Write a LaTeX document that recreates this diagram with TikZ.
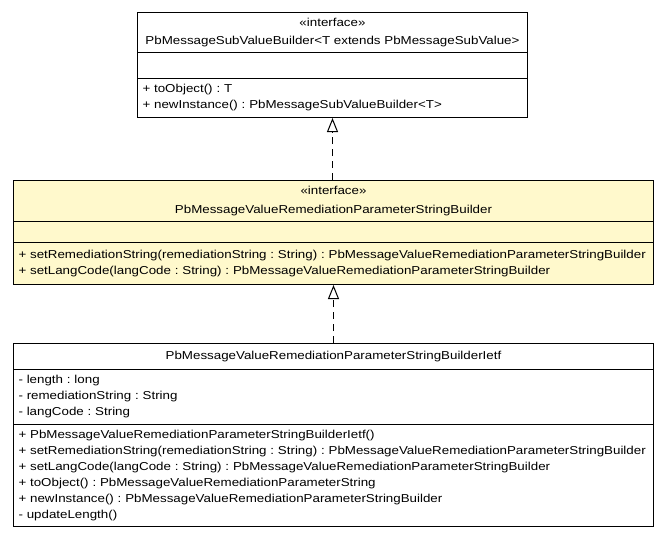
\documentclass[tikz,border=0pt]{standalone}
\usepackage{fontspec}
\setmainfont{Liberation Sans}[FakeStretch=1.16]
\usetikzlibrary{arrows.meta}
\definecolor{ifacefill}{HTML}{FFF9CC}
\frenchspacing
\tikzset{
  part/.style={draw, line width=1pt, anchor=north west, inner sep=0pt, font=\fontsize{11.5}{16}\selectfont},
  title/.style={part, align=center, font=\fontsize{11.5}{18.5}\selectfont},
  list/.style={part, align=left, inner xsep=5pt},
  realize/.style={line width=1pt, dash pattern=on 7pt off 5pt, -{Triangle[open, width=11pt, length=14pt]}},
}

\begin{document}
\begin{tikzpicture}[x=1pt, y=-1pt]
    \useasboundingbox (0,0) rectangle (664,539);
    % PbMessageSubValueBuilder
    \node[title, minimum width=390pt, minimum height=40pt] (sbTitle) at (137,12) {«interface»\\PbMessageSubValueBuilder<T extends PbMessageSubValue>};
    \node[part, minimum width=390pt, minimum height=26pt] (sbAttrs) at (137,52) {};
    \node[list, text width=380pt, minimum height=39pt] (sbMethods) at (137,78) {+ toObject() : T\\+ newInstance() : PbMessageSubValueBuilder<T>};

    % PbMessageValueRemediationParameterStringBuilder
    \node[title, fill=ifacefill, minimum width=640pt, minimum height=41pt] (rbTitle) at (13,180) {«interface»\\PbMessageValueRemediationParameterStringBuilder};
    \node[part, fill=ifacefill, minimum width=640pt, minimum height=21pt] (rbAttrs) at (13,221) {};
    \node[list, fill=ifacefill, text width=630pt, minimum height=42pt] (rbMethods) at (13,242) {+ setRemediationString(remediationString : String) : PbMessageValueRemediationParameterStringBuilder\\+ setLangCode(langCode : String) : PbMessageValueRemediationParameterStringBuilder};

    % PbMessageValueRemediationParameterStringBuilderIetf
    \node[title, minimum width=640pt, minimum height=26pt] (ibTitle) at (13,343) {PbMessageValueRemediationParameterStringBuilderIetf};
    \node[list, text width=630pt, minimum height=55pt] (ibAttrs) at (13,369) {- length : long\\- remediationString : String\\- langCode : String};
    \node[list, text width=630pt, minimum height=102pt] (ibMethods) at (13,424) {+ PbMessageValueRemediationParameterStringBuilderIetf()\\+ setRemediationString(remediationString : String) : PbMessageValueRemediationParameterStringBuilder\\+ setLangCode(langCode : String) : PbMessageValueRemediationParameterStringBuilder\\+ toObject() : PbMessageValueRemediationParameterString\\+ newInstance() : PbMessageValueRemediationParameterStringBuilder\\- updateLength()};

    % realizations
    \draw[realize] (rbTitle.north -| sbMethods.south) -- (sbMethods.south);
    \draw[realize] (ibTitle.north -| rbMethods.south) -- (rbMethods.south);
\end{tikzpicture}
\end{document}
